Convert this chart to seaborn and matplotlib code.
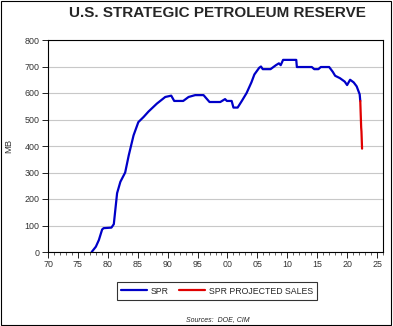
import matplotlib
matplotlib.use("Agg")
import matplotlib.pyplot as plt
import matplotlib.ticker as mticker
import seaborn as sns
import pandas as pd

# --- data ---
spr_years = [1977.3, 1978.0, 1978.5, 1979.05, 1979.3, 1980.6, 1981.0, 1981.55, 1982.1, 1982.9,
             1983.5, 1984.3, 1985.1, 1986.0, 1986.8, 1988.2, 1989.6, 1990.6, 1991.1, 1992.6,
             1993.5, 1994.6, 1996.0, 1997.0, 1998.8, 1999.6, 1999.9, 2000.7, 2001.0, 2001.7,
             2002.4, 2003.2, 2004.0, 2004.5, 2005.3, 2005.6, 2005.9, 2007.2, 2008.1, 2008.6,
             2008.9, 2009.3, 2011.5, 2011.6, 2014.1, 2014.5, 2015.2, 2015.6, 2017.0, 2017.6,
             2018.0, 2018.8, 2019.6, 2020.0, 2020.5, 2021.1, 2021.6, 2022.1, 2022.2]
spr_values = [0, 20, 45, 85, 90, 92, 105, 222, 265, 300,
              365, 440, 490, 510, 530, 560, 585, 590, 570, 570,
              585, 592, 592, 566, 566, 577, 570, 570, 545, 545,
              570, 600, 640, 670, 695, 700, 690, 690, 705, 712,
              705, 725, 725, 698, 698, 690, 690, 698, 698, 680,
              665, 656, 643, 630, 650, 640, 625, 595, 570]
proj_years = [2022.2, 2022.35, 2022.4, 2022.5]
proj_values = [570, 470, 455, 390]

y_ticks = [0, 100, 200, 300, 400, 500, 600, 700, 800]
x_ticks = [1970, 1975, 1980, 1985, 1990, 1995, 2000, 2005, 2010, 2015, 2020, 2025]

sns.set_style("white")
plt.rcParams['font.family'] = ['Liberation Sans', 'DejaVu Sans']

fig = plt.figure(figsize=(3.93, 3.26), dpi=100)
ax = fig.add_axes([48/393, 1 - 252/326, (383-48)/393, (252-40)/326])

df_spr = pd.DataFrame({"year": spr_years, "mb": spr_values})
df_proj = pd.DataFrame({"year": proj_years, "mb": proj_values})
sns.lineplot(data=df_spr, x="year", y="mb", ax=ax, color="#0000C8", lw=1.6,
             label="SPR", estimator=None, sort=False)
sns.lineplot(data=df_proj, x="year", y="mb", ax=ax, color="#E00000", lw=1.6,
             label="SPR PROJECTED SALES", estimator=None, sort=False)

ax.set_xlim(1970, 2026)
ax.set_ylim(0, 800)
ax.set_yticks(y_ticks)
ax.set_xticks(x_ticks)
ax.xaxis.set_minor_locator(mticker.MultipleLocator(1))
ax.xaxis.set_major_formatter(mticker.FuncFormatter(lambda v, p: f"{int(round(v)) % 100:02d}"))
ax.yaxis.grid(True, color="#C8C8C8", lw=0.8)
ax.set_axisbelow(True)
for s in ax.spines.values():
    s.set_color("black")
    s.set_linewidth(0.8)
ax.tick_params(axis="both", which="major", direction="out", length=4, width=0.6,
               labelsize=6.4, colors="black", labelcolor="#333333", pad=2, bottom=True, left=True)
ax.tick_params(axis="x", which="minor", direction="out", length=2, width=0.5, bottom=True)
ax.set_xlabel("")
ax.set_ylabel("")
fig.text(9/393, 1 - 146/326, "MB", rotation=90, ha="center", va="center", fontsize=6.8,
         color="#333333")

fig.text(217/393, 1 - 13/326, "U.S. STRATEGIC PETROLEUM RESERVE", ha="center", va="center",
         fontsize=11, fontweight="bold")

leg = ax.legend(loc="center", bbox_to_anchor=(217/393, 1 - 291/326), bbox_transform=fig.transFigure,
                ncol=2, fontsize=6.3, frameon=True, fancybox=False, handlelength=3.0,
                columnspacing=1.2, handletextpad=0.4, borderpad=0.5)
leg.get_frame().set_edgecolor("black")
leg.get_frame().set_linewidth(0.8)

fig.text(218/393, 1 - 320/326, "Sources:  DOE, CIM", ha="center", va="center",
         fontsize=5, style="italic")

fig.patches.append(plt.Rectangle((0.002, 0.002), 0.994, 0.994, transform=fig.transFigure,
                                 fill=False, edgecolor="black", lw=0.8))

fig.savefig("out.png", dpi=100)
